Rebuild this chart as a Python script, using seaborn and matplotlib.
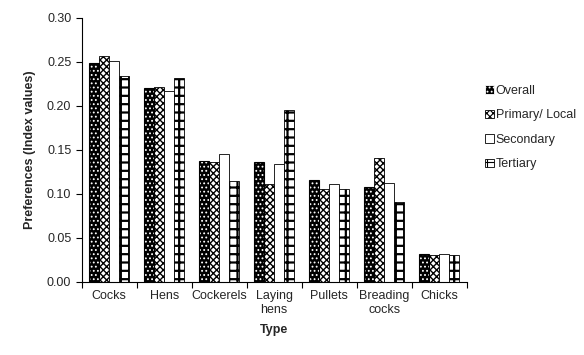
import pandas as pd
import matplotlib.pyplot as plt
import seaborn as sns
from matplotlib.patches import Rectangle

types = ['Cocks', 'Hens', 'Cockerels', 'Laying\nhens', 'Pullets', 'Breading\ncocks', 'Chicks']
groups = ['Overall', 'Primary/ Local', 'Secondary', 'Tertiary']
overall = [0.249, 0.220, 0.137, 0.136, 0.116, 0.108, 0.032]
primary = [0.256, 0.221, 0.136, 0.111, 0.105, 0.141, 0.031]
secondary = [0.251, 0.217, 0.145, 0.134, 0.111, 0.112, 0.032]
tertiary = [0.234, 0.232, 0.115, 0.195, 0.106, 0.091, 0.031]

rows = []
for g, vals in zip(groups, [overall, primary, secondary, tertiary]):
    for t, v in zip(types, vals):
        rows.append({'Type': t, 'Group': g, 'Value': v})
df = pd.DataFrame(rows)

sns.set_style('ticks')
plt.rcParams['font.family'] = ['Liberation Sans', 'DejaVu Sans']
plt.rcParams['hatch.linewidth'] = 0.8

fig = plt.figure(figsize=(5.84, 3.55), dpi=100)
ax = fig.add_axes([0.140, 0.206, 0.659, 0.744])
sns.barplot(data=df, x='Type', y='Value', hue='Group', order=types, hue_order=groups,
            width=0.73, gap=0, ax=ax, legend=False, saturation=1)

styles = [
    dict(fc='black', ec='white', hatch='....', hlw=0.8),
    dict(fc='white', ec='black', hatch='xxxxx', hlw=1.0),
    dict(fc='white', ec='black', hatch='', hlw=0.8),
    dict(fc='white', ec='black', hatch='++', hlw=1.6),
]
for cont, st in zip(ax.containers, styles):
    for p in cont:
        p.set_facecolor(st['fc'])
        p.set_edgecolor(st['ec'])
        p.set_hatch(st['hatch'])
        if hasattr(p, 'set_hatch_linewidth'):
            p.set_hatch_linewidth(st['hlw'])
        p.set_linewidth(0.6)
        if st['ec'] == 'white':
            ax.add_patch(Rectangle(p.get_xy(), p.get_width(), p.get_height(),
                                   fill=False, ec='black', lw=0.8))

ax.set_ylim(0, 0.30)
ax.set_xlim(-0.5, len(types) - 0.5)
yt = [0, 0.05, 0.10, 0.15, 0.20, 0.25, 0.30]
ax.set_yticks(yt)
ax.set_yticklabels([f'{v:.2f}' for v in yt])
ax.set_xticks([i + 0.5 for i in range(-1, len(types))], minor=True)
ax.tick_params(axis='x', which='major', length=0, pad=6, labelsize=9)
ax.tick_params(axis='x', which='minor', length=4, width=0.8, color='black')
ax.tick_params(axis='y', length=4, width=0.8, labelsize=9, color='black')
for s in ['top', 'right']:
    ax.spines[s].set_visible(False)
for s in ['left', 'bottom']:
    ax.spines[s].set_linewidth(0.8)
    ax.spines[s].set_color('black')

ax.set_xlabel('Type', fontsize=9, fontweight='bold', labelpad=6)
ax.set_ylabel('Preferences (Index values)', fontsize=9, fontweight='bold', labelpad=8)

handles = [c[0] for c in ax.containers]
fig.legend(handles, groups, loc='upper left', bbox_to_anchor=(0.822, 0.775),
           frameon=False, fontsize=9, handlelength=0.7, handleheight=0.7,
           handletextpad=0.15, labelspacing=1.0, borderaxespad=0)

fig.savefig('out.png', dpi=100)
